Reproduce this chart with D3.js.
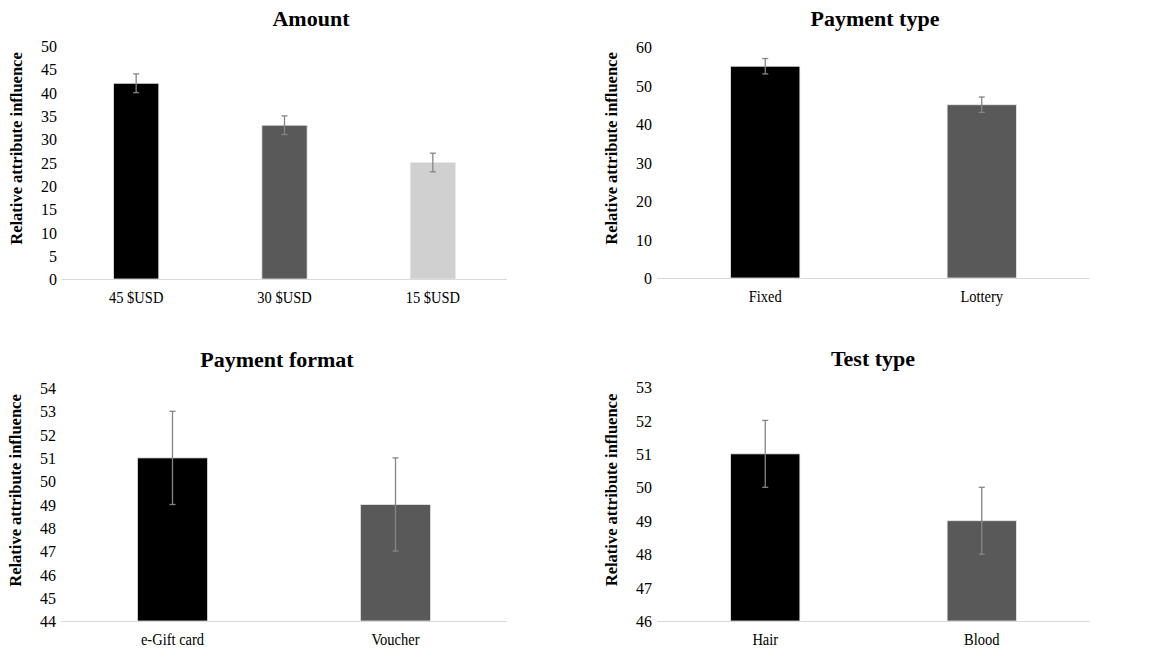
<!DOCTYPE html>
<html>
<head>
<meta charset="utf-8">
<script src="https://cdn.jsdelivr.net/npm/d3@7"></script>
<style>
  body { margin: 0; background: #fff; }
  svg { display: block; }
  text { font-family: "Liberation Serif", "Times New Roman", serif; fill: #000; }
</style>
</head>
<body>
<div id="chart"></div>
<script>
// Data: one set of arrays per panel
var amountCats = ["45 $USD", "30 $USD", "15 $USD"];
var amountVals = [42, 33, 25];
var amountErr = [2, 2, 2];
var amountTicks = [0, 5, 10, 15, 20, 25, 30, 35, 40, 45, 50];

var typeCats = ["Fixed", "Lottery"];
var typeVals = [55, 45];
var typeErr = [2, 2];
var typeTicks = [0, 10, 20, 30, 40, 50, 60];

var formatCats = ["e-Gift card", "Voucher"];
var formatVals = [51, 49];
var formatErr = [2, 2];
var formatTicks = [44, 45, 46, 47, 48, 49, 50, 51, 52, 53, 54];

var testCats = ["Hair", "Blood"];
var testVals = [51, 49];
var testErr = [1, 1];
var testTicks = [46, 47, 48, 49, 50, 51, 52, 53];

var barColors = ["#000000", "#595959", "#d0d0d0"];

//Width and height
var w = 1163;
var h = 656;

var svg = d3.select("#chart")
            .append("svg")
            .attr("width", w)
            .attr("height", h);

// Layout of each panel (plot box in page pixels)
var panels = [
  { title: "Amount", cats: amountCats, vals: amountVals, err: amountErr, ticks: amountTicks,
    x0: 62, x1: 507, y0: 46, y1: 279, pad: 0.695, titleX: 311, titleY: 26 },
  { title: "Payment type", cats: typeCats, vals: typeVals, err: typeErr, ticks: typeTicks,
    x0: 657, x1: 1090, y0: 47, y1: 278, pad: 0.68, titleX: 875, titleY: 26 },
  { title: "Payment format", cats: formatCats, vals: formatVals, err: formatErr, ticks: formatTicks,
    x0: 61, x1: 507, y0: 388, y1: 621, pad: 0.685, titleX: 277, titleY: 367 },
  { title: "Test type", cats: testCats, vals: testVals, err: testErr, ticks: testTicks,
    x0: 657, x1: 1090, y0: 387, y1: 621, pad: 0.68, titleX: 873, titleY: 366 }
];

panels.forEach(function(p) {
  var g = svg.append("g");

  var x = d3.scaleBand()
            .domain(p.cats)
            .range([p.x0, p.x1])
            .paddingInner(p.pad)
            .paddingOuter(p.pad / 2);

  var y = d3.scaleLinear()
            .domain(d3.extent(p.ticks))
            .range([p.y1, p.y0]);

  var rows = p.cats.map(function(c, i) {
    return { cat: c, val: p.vals[i], err: p.err[i], i: i };
  });

  //Title
  g.append("text")
   .attr("x", p.titleX)
   .attr("y", p.titleY)
   .attr("text-anchor", "middle")
   .style("font-size", "22px")
   .style("font-weight", "bold")
   .text(p.title);

  //Y axis (no line, no ticks)
  var yAxis = g.append("g")
               .attr("transform", "translate(" + p.x0 + ",0)")
               .call(d3.axisLeft(y).tickValues(p.ticks).tickFormat(d3.format("d"))
                       .tickSize(0).tickPadding(5));
  yAxis.select(".domain").remove();
  yAxis.selectAll("text")
       .style("font-family", "'Liberation Serif', 'Times New Roman', serif")
       .style("font-size", "16px")
       .attr("fill", "#000")
       .attr("transform", "scale(1,1.1)");

  //Y axis label
  g.append("text")
   .attr("transform", "translate(" + (p.x0 - 40) + "," + ((p.y0 + p.y1) / 2 - 14) + ") rotate(-90)")
   .attr("text-anchor", "middle")
   .style("font-size", "16.5px")
   .style("font-weight", "bold")
   .text("Relative attribute influence");

  //Bars
  g.selectAll("rect.bar")
   .data(rows)
   .enter()
   .append("rect")
   .attr("class", "bar")
   .attr("x", function(d) { return x(d.cat); })
   .attr("width", x.bandwidth())
   .attr("y", function(d) { return y(d.val); })
   .attr("height", function(d) { return p.y1 - y(d.val); })
   .style("fill", function(d) { return barColors[d.i]; })
   .style("stroke", "#e8e8e8")
   .style("stroke-width", 0.8);

  //Baseline
  g.append("line")
   .attr("x1", p.x0).attr("x2", p.x1)
   .attr("y1", p.y1 + 0.5).attr("y2", p.y1 + 0.5)
   .style("stroke", "#d9d9d9")
   .style("stroke-width", 1);

  //X axis labels
  var xAxis = g.append("g")
               .attr("transform", "translate(0," + p.y1 + ")")
               .call(d3.axisBottom(x).tickSize(0).tickPadding(11.5));
  xAxis.select(".domain").remove();
  xAxis.selectAll("text")
       .style("font-family", "'Liberation Serif', 'Times New Roman', serif")
       .style("font-size", "14.5px")
       .attr("fill", "#000")
       .attr("transform", "scale(1,1.1)");

  //Error bars
  var eb = g.selectAll("g.err")
            .data(rows)
            .enter()
            .append("g")
            .attr("class", "err")
            .style("stroke", "#858585")
            .style("stroke-width", 1.3);
  var cx = function(d) { return x(d.cat) + x.bandwidth() / 2; };
  eb.append("line")
    .attr("x1", cx).attr("x2", cx)
    .attr("y1", function(d) { return y(d.val - d.err); })
    .attr("y2", function(d) { return y(d.val + d.err); });
  eb.append("line")
    .attr("x1", function(d) { return cx(d) - 3; })
    .attr("x2", function(d) { return cx(d) + 3; })
    .attr("y1", function(d) { return y(d.val + d.err); })
    .attr("y2", function(d) { return y(d.val + d.err); });
  eb.append("line")
    .attr("x1", function(d) { return cx(d) - 3; })
    .attr("x2", function(d) { return cx(d) + 3; })
    .attr("y1", function(d) { return y(d.val - d.err); })
    .attr("y2", function(d) { return y(d.val - d.err); });
});
</script>
</body>
</html>
